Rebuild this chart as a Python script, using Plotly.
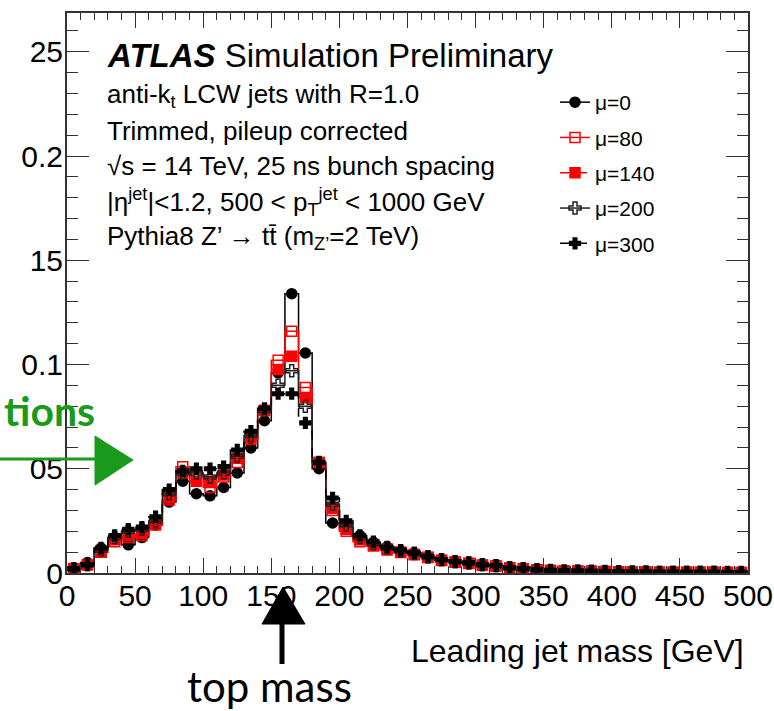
import plotly.graph_objects as go

# ---------------- data ----------------
mass_centers = list(range(5, 500, 10))  # 10 GeV bins, centres in GeV

mu0 = [0.0015, 0.005, 0.012, 0.017, 0.0135, 0.017, 0.023, 0.034, 0.044, 0.038,
       0.037, 0.041, 0.048, 0.060, 0.073, 0.096, 0.134, 0.1055, 0.050, 0.024,
       0.022, 0.018, 0.0147, 0.0126, 0.0105, 0.0096, 0.0078, 0.0063, 0.0054, 0.0049,
       0.0039, 0.0035, 0.0025, 0.0020, 0.0015, 0.0012, 0.0010, 0.0009, 0.0008, 0.0007,
       0.0006, 0.0005, 0.0005, 0.0004, 0.0004, 0.0003, 0.0003, 0.0003, 0.0002, 0.0002]
mu80 = [0.002, 0.004, 0.010, 0.015, 0.017, 0.018, 0.023, 0.035, 0.051, 0.046,
        0.041, 0.046, 0.053, 0.064, 0.078, 0.102, 0.116, 0.089, 0.053, 0.030,
        0.020, 0.015, 0.013, 0.011, 0.0098, 0.0088, 0.0074, 0.0060, 0.0052, 0.0046,
        0.0037, 0.0033, 0.0024, 0.0019, 0.0015, 0.0012, 0.0010, 0.0009, 0.0008, 0.0007,
        0.0006, 0.0005, 0.0005, 0.0004, 0.0004, 0.0003, 0.0003, 0.0003, 0.0002, 0.0002]
mu140 = [0.002, 0.004, 0.010, 0.016, 0.018, 0.019, 0.024, 0.036, 0.048, 0.044,
         0.044, 0.047, 0.055, 0.065, 0.078, 0.0976, 0.104, 0.084, 0.053, 0.031,
         0.021, 0.016, 0.0135, 0.0115, 0.0100, 0.0090, 0.0075, 0.0061, 0.0053, 0.0047,
         0.0038, 0.0034, 0.0025, 0.0020, 0.0015, 0.0012, 0.0010, 0.0009, 0.0008, 0.0007,
         0.0006, 0.0005, 0.0005, 0.0004, 0.0004, 0.0003, 0.0003, 0.0003, 0.0002, 0.0002]
mu200 = [0.002, 0.004, 0.011, 0.017, 0.020, 0.021, 0.025, 0.038, 0.048, 0.048,
         0.046, 0.048, 0.056, 0.066, 0.078, 0.090, 0.097, 0.080, 0.053, 0.033,
         0.023, 0.017, 0.014, 0.012, 0.0105, 0.0094, 0.0077, 0.0063, 0.0054, 0.0048,
         0.0039, 0.0035, 0.0025, 0.0020, 0.0015, 0.0012, 0.0010, 0.0009, 0.0008, 0.0007,
         0.0006, 0.0005, 0.0005, 0.0004, 0.0004, 0.0003, 0.0003, 0.0003, 0.0002, 0.0002]
mu300 = [0.002, 0.004, 0.012, 0.018, 0.021, 0.022, 0.027, 0.040, 0.049, 0.050,
         0.050, 0.051, 0.059, 0.068, 0.079, 0.086, 0.086, 0.072, 0.053, 0.036,
         0.025, 0.018, 0.015, 0.0125, 0.0110, 0.0097, 0.0080, 0.0065, 0.0055, 0.0050,
         0.0040, 0.0036, 0.0026, 0.0021, 0.0016, 0.0013, 0.0010, 0.0009, 0.0008, 0.0007,
         0.0006, 0.0005, 0.0005, 0.0004, 0.0004, 0.0003, 0.0003, 0.0003, 0.0002, 0.0002]

series_names = ["μ=0", "μ=80", "μ=140", "μ=200", "μ=300"]
x_ticks = [0, 50, 100, 150, 200, 250, 300, 350, 400, 450, 500]
y_tickvals = [0, 0.05, 0.1, 0.15, 0.2, 0.25]
y_ticktext = ["0", "05", "0.1", "15", "0.2", "25"]
x_title = "Leading jet mass [GeV]"

# ---------------- styles ----------------
styles = [
    dict(color="black", symbol="circle", size=10, dash="solid"),
    dict(color="red", symbol="square-open", size=10, dash="solid"),
    dict(color="red", symbol="square", size=10, dash="dash"),
    dict(color="#222222", symbol="cross-open", size=10, dash="solid"),
    dict(color="black", symbol="cross", size=9, dash="dash"),
]

W, H = 774, 711
L, R, T, B = 67, 26, 13, 138
PW, PH = W - L - R, H - T - B


def px(xp):
    return (xp - L) / PW


def py(yp):
    return (H - B - yp) / PH


fig = go.Figure()
for i, (name, ys, st) in enumerate(zip(series_names, [mu0, mu80, mu140, mu200, mu300], styles)):
    fig.add_trace(go.Scatter(
        x=mass_centers, y=ys, name=name, mode="lines+markers", legendgroup=f"g{i}",
        line=dict(color=st["color"], width=1.5, dash=st["dash"], shape="hvh"),
        marker=dict(color=st["color"], symbol=st["symbol"], size=st["size"],
                    line=dict(color=st["color"], width=1.5)),
    ))

FONT = "Liberation Sans, Arial, Helvetica, sans-serif"

fig.update_layout(
    width=W, height=H,
    margin=dict(l=L, r=R, t=T, b=B, autoexpand=False),
    paper_bgcolor="white", plot_bgcolor="white",
    font=dict(family=FONT, size=30, color="black"),
    showlegend=True,
    legend=dict(x=px(555), y=py(82), xanchor="left", yanchor="top",
                bgcolor="rgba(0,0,0,0)", font=dict(size=21, family=FONT),
                tracegroupgap=5, traceorder="grouped"),
    xaxis=dict(range=[0, 500], tickvals=x_ticks, ticks="inside", ticklen=15,
               tickwidth=1.3, tickcolor="#333", showline=True, linecolor="#333",
               linewidth=2, mirror="ticks", showgrid=False, zeroline=False,
               tickfont=dict(size=30, family=FONT), ticklabelstandoff=-5,
               minor=dict(dtick=10, ticks="inside", ticklen=7, tickcolor="#333",
                          tickwidth=1.3, showgrid=False)),
    yaxis=dict(range=[0, 0.2686], tickvals=y_tickvals, ticktext=y_ticktext,
               ticks="inside", ticklen=22, tickwidth=1.3, tickcolor="#333",
               showline=True, linecolor="#333", linewidth=2, mirror="ticks",
               showgrid=False, zeroline=False, tickfont=dict(size=30, family=FONT),
               ticklabelstandoff=-4,
               minor=dict(dtick=0.01, ticks="inside", ticklen=11, tickcolor="#333",
                          tickwidth=1.3, showgrid=False)),
)

# x axis title, right aligned like ROOT
fig.add_annotation(x=px(746), y=py(651), xref="paper", yref="paper", xanchor="right",
                   yanchor="middle", showarrow=False, text=x_title,
                   font=dict(size=32, family=FONT))

# ATLAS labels
fig.add_annotation(x=px(105), y=py(56), xref="paper", yref="paper", xanchor="left",
                   yanchor="middle", showarrow=False,
                   text="<b><i>ATLAS</i></b> Simulation Preliminary",
                   font=dict(size=33, family=FONT))
info_lines = [
    "anti-k<sub>t</sub> LCW jets with R=1.0",
    "Trimmed, pileup corrected",
    "√s = 14 TeV, 25 ns bunch spacing",
    "|η<sup>jet</sup>|&lt;1.2, 500 &lt; p<sub>T</sub><sup>jet</sup> &lt; 1000 GeV",
    "Pythia8 Z’ → tt̄ (m<sub>Z’</sub>=2 TeV)",
]
for i, t in enumerate(info_lines):
    fig.add_annotation(x=px(105), y=py(95 + 35.5 * i), xref="paper", yref="paper",
                       xanchor="left", yanchor="middle", showarrow=False, text=t,
                       font=dict(size=26, family=FONT))

# green annotation (cropped slide text) and arrow
GREEN = "#1a9a1a"
fig.add_annotation(x=px(97), y=py(411), xref="paper", yref="paper", xanchor="right",
                   yanchor="middle", showarrow=False, text="<b>tions</b>",
                   font=dict(size=41, family="Lato, Open Sans, sans-serif", color=GREEN))
fig.add_shape(type="line", xref="paper", yref="paper", x0=px(0), x1=px(100),
              y0=py(459), y1=py(459), line=dict(color=GREEN, width=3))
fig.add_shape(type="path", xref="paper", yref="paper",
              path=f"M {px(95)} {py(436)} L {px(133)} {py(460)} L {px(95)} {py(485)} Z",
              fillcolor=GREEN, line=dict(color=GREEN, width=1))

# top mass arrow + text
fig.add_shape(type="line", xref="paper", yref="paper", x0=px(282), x1=px(282),
              y0=py(664), y1=py(620), line=dict(color="black", width=5))
fig.add_shape(type="path", xref="paper", yref="paper",
              path=f"M {px(262)} {py(624)} L {px(283)} {py(587)} L {px(305)} {py(624)} Z",
              fillcolor="black", line=dict(color="black", width=1))
fig.add_annotation(x=px(269), y=py(686), xref="paper", yref="paper", xanchor="center",
                   yanchor="middle", showarrow=False, text="top mass",
                   font=dict(size=42, family="Lato, Open Sans, sans-serif", color="black"))

fig.write_html("out.html")
